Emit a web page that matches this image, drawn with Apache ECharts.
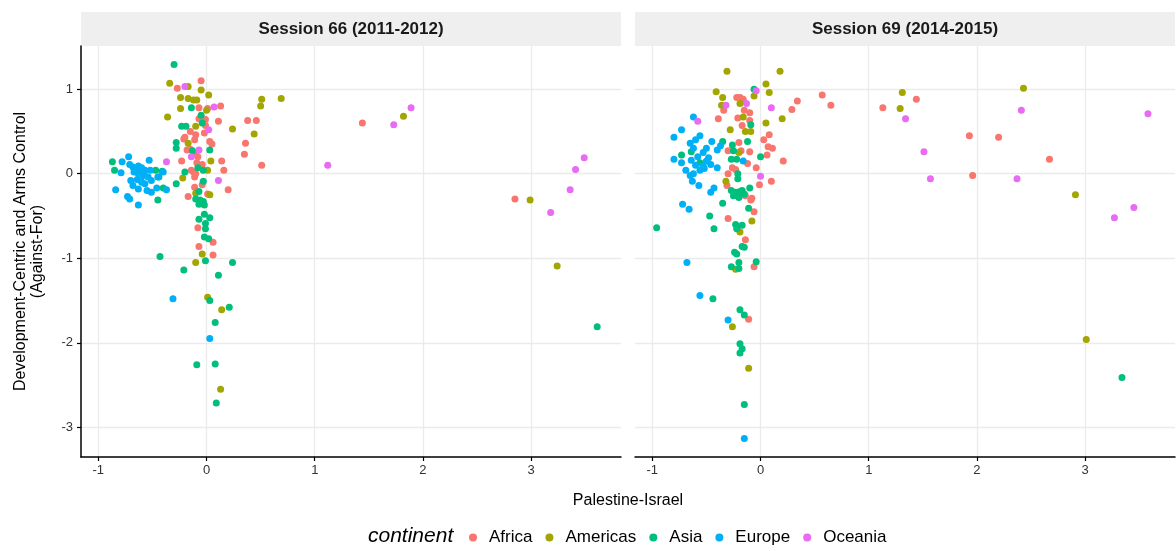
<!DOCTYPE html>
<html>
<head>
<meta charset="utf-8">
<script src="https://cdn.jsdelivr.net/npm/echarts@6/dist/echarts.min.js"></script>
<style>
  html, body { margin: 0; padding: 0; background: #fff; }
  #chart { width: 1176px; height: 551px; }
</style>
</head>
<body>
<div id="chart"></div>
<script>
const continents = ['Africa', 'Americas', 'Asia', 'Europe', 'Oceania']
const colors = ['#F8766D', '#A3A500', '#00BF7D', '#00B0F6', '#E76BF3']
const sessions = ['Session 66 (2011-2012)', 'Session 69 (2014-2015)']
const xTicks = [-1, 0, 1, 2, 3]
const yTicks = [-3, -2, -1, 0, 1]

// Session 66: [Palestine-Israel, Development-Centric and Arms Control]
const s66Africa = [
  [-0.27,1.01],[-0.05,1.10],[-0.07,0.78],[0.01,0.77],[0.13,0.80],[-0.07,0.65],[-0.01,0.64],[0.11,0.62],
  [0.38,0.63],[0.46,0.63],[-0.15,0.50],[-0.01,0.57],[-0.10,0.46],[-0.02,0.48],[-0.21,0.41],[-0.20,0.43],
  [-0.11,0.40],[0.03,0.38],[0.05,0.35],[0.36,0.36],[0.35,0.23],[-0.18,0.28],[-0.15,0.29],[-0.10,0.23],
  [-0.08,0.20],[-0.23,0.15],[0.14,0.15],[-0.09,0.13],[-0.04,0.11],[0.51,0.10],[-0.14,0.04],[0.16,0.04],
  [-0.12,0.02],[-0.10,0.00],[-0.11,-0.04],[-0.04,-0.13],[-0.11,-0.16],[0.20,-0.19],[0.01,-0.24],[-0.17,-0.27],
  [-0.08,-0.64],[0.06,-0.81],[-0.07,-0.86],[0.06,-0.96],[1.44,0.60],[2.85,-0.30]
]
const s66Americas = [
  [-0.34,1.07],[-0.17,1.03],[-0.05,0.99],[0.02,0.93],[-0.24,0.90],[-0.17,0.89],[-0.12,0.87],[-0.09,0.87],
  [-0.24,0.77],[0.00,0.75],[0.51,0.88],[0.50,0.80],[0.69,0.89],[-0.36,0.67],[-0.10,0.56],[0.24,0.53],
  [0.44,0.47],[-0.17,0.36],[0.04,0.15],[0.01,0.04],[-0.22,-0.05],[-0.10,-0.23],[0.03,-0.25],[-0.04,-0.95],
  [-0.10,-1.05],[0.01,-1.46],[0.14,-1.61],[0.13,-2.55],[1.82,0.68],[2.99,-0.31],[3.24,-1.09]
]
const s66Asia = [
  [-0.30,1.29],[-0.14,0.78],[-0.05,0.69],[-0.04,0.60],[-0.23,0.56],[-0.19,0.56],[-0.28,0.37],[-0.28,0.30],
  [-0.13,0.27],[0.03,0.28],[-0.08,0.07],[-0.03,0.04],[-0.47,0.04],[-0.44,-0.04],[-0.41,0.03],[-0.87,0.14],
  [-0.85,0.04],[-0.40,-0.17],[-0.45,-0.31],[-0.28,-0.12],[-0.20,0.02],[-0.03,-0.09],[-0.07,-0.21],[-0.10,-0.30],
  [-0.06,-0.31],[-0.03,-0.33],[-0.07,-0.36],[-0.02,-0.37],[-0.02,-0.48],[0.03,-0.52],[-0.07,-0.54],[-0.01,-0.59],
  [-0.01,-0.65],[-0.02,-0.75],[0.02,-0.77],[-0.43,-0.98],[-0.01,-1.03],[0.24,-1.05],[-0.21,-1.14],[0.11,-1.20],
  [0.03,-1.50],[0.21,-1.58],[0.08,-1.76],[-0.09,-2.26],[0.08,-2.25],[0.09,-2.71],[3.61,-1.81]
]
const s66Europe = [
  [-0.72,0.20],[-0.78,0.14],[-0.53,0.16],[-0.71,0.11],[-0.68,0.08],[-0.63,0.09],[-0.60,0.07],[-0.65,0.04],
  [-0.61,0.03],[-0.57,0.04],[-0.52,0.04],[-0.58,0.00],[-0.63,0.00],[-0.67,0.02],[-0.79,0.01],[-0.54,-0.04],
  [-0.60,-0.04],[-0.45,-0.04],[-0.40,0.02],[-0.70,-0.08],[-0.64,-0.07],[-0.60,-0.10],[-0.57,-0.12],[-0.68,-0.14],
  [-0.63,-0.18],[-0.55,-0.20],[-0.51,-0.22],[-0.46,-0.17],[-0.84,-0.19],[-0.73,-0.27],[-0.71,-0.30],[-0.63,-0.37],
  [-0.37,-0.19],[-0.51,-0.08],[-0.31,-1.48],[0.03,-1.95]
]
const s66Oceania = [
  [-0.20,1.03],[0.07,0.79],[0.02,0.52],[-0.07,0.28],[-0.14,0.20],[-0.37,0.14],[0.11,-0.08],[1.12,0.10],
  [1.73,0.58],[1.89,0.78],[3.18,-0.46],[3.36,-0.19],[3.41,0.05],[3.49,0.19]
]

// Session 69
const s69Africa = [
  [-0.22,0.90],[-0.19,0.90],[-0.16,0.88],[-0.34,0.75],[-0.15,0.75],[-0.10,0.72],[0.34,0.86],[0.29,0.76],
  [-0.39,0.65],[-0.21,0.66],[-0.10,0.63],[-0.17,0.57],[0.08,0.46],[0.03,0.40],[-0.20,0.37],[0.07,0.32],
  [0.11,0.30],[-0.30,0.27],[-0.18,0.27],[-0.10,0.26],[0.06,0.22],[0.21,0.15],[-0.12,0.12],[-0.26,0.07],
  [-0.23,0.05],[-0.30,0.00],[-0.04,0.07],[0.10,-0.09],[-0.01,-0.13],[-0.31,-0.14],[-0.14,-0.26],[-0.08,-0.29],
  [-0.09,-0.31],[-0.06,-0.45],[-0.30,-0.53],[-0.14,-0.78],[-0.06,-1.10],[-0.11,-1.72],[0.57,0.93],[0.65,0.81],
  [1.13,0.78],[1.44,0.88],[1.93,0.45],[1.96,-0.02],[2.20,0.43],[2.67,0.17]
]
const s69Americas = [
  [-0.31,1.21],[0.18,1.21],[0.05,1.06],[0.08,0.96],[-0.41,0.97],[-0.35,0.90],[-0.06,0.92],[-0.36,0.81],
  [-0.19,0.83],[-0.16,0.67],[0.20,0.65],[0.05,0.60],[-0.28,0.52],[-0.14,0.50],[-0.09,0.50],[-0.20,0.25],
  [-0.32,-0.09],[-0.08,-0.56],[-0.19,-0.69],[-0.23,-1.13],[-0.26,-1.81],[-0.11,-2.30],[1.31,0.96],[1.29,0.77],
  [2.43,1.01],[2.91,-0.25],[3.01,-1.96]
]
const s69Asia = [
  [-0.06,1.00],[-0.09,0.58],[-0.35,0.38],[-0.26,0.34],[-0.12,0.38],[-0.64,0.26],[-0.73,0.22],[-0.25,0.27],
  [0.00,0.20],[-0.27,0.17],[-0.22,0.17],[-0.56,0.13],[-0.21,0.00],[-0.21,-0.06],[-0.27,-0.20],[-0.23,-0.22],
  [-0.19,-0.21],[-0.15,-0.24],[-0.25,-0.26],[-0.20,-0.28],[-0.17,-0.20],[-0.10,-0.17],[-0.35,-0.35],[-0.11,-0.41],
  [-0.47,-0.50],[-0.96,-0.64],[-0.43,-0.65],[-0.23,-0.60],[-0.17,-0.61],[-0.22,-0.65],[-0.17,-0.86],[-0.15,-0.87],
  [-0.24,-0.93],[-0.22,-0.95],[-0.04,-1.04],[-0.20,-1.05],[-0.27,-1.10],[-0.20,-1.12],[-0.44,-1.48],[-0.19,-1.61],
  [-0.15,-1.67],[-0.19,-2.01],[-0.17,-2.07],[-0.19,-2.12],[-0.15,-2.73],[3.34,-2.41]
]
const s69Europe = [
  [-0.62,0.67],[-0.73,0.52],[-0.80,0.43],[-0.56,0.45],[-0.60,0.40],[-0.65,0.36],[-0.62,0.30],[-0.50,0.30],
  [-0.45,0.38],[-0.37,0.33],[-0.40,0.28],[-0.53,0.25],[-0.58,0.20],[-0.48,0.19],[-0.50,0.15],[-0.16,0.15],
  [-0.80,0.17],[-0.73,0.13],[-0.64,0.16],[-0.60,0.10],[-0.46,0.11],[-0.53,0.09],[-0.52,0.06],[-0.56,0.04],
  [-0.40,0.07],[-0.69,0.04],[-0.62,0.00],[-0.65,-0.02],[-0.63,-0.09],[-0.57,-0.14],[-0.43,-0.17],[-0.46,-0.22],
  [-0.72,-0.36],[-0.66,-0.42],[-0.68,-1.05],[-0.56,-1.44],[-0.30,-1.73],[-0.15,-3.13]
]
const s69Oceania = [
  [-0.04,0.98],[-0.32,0.81],[-0.13,0.83],[0.10,0.78],[-0.58,0.62],[0.00,-0.03],[1.34,0.65],[1.51,0.26],
  [1.57,-0.06],[2.41,0.75],[2.37,-0.06],[3.58,0.71],[3.27,-0.52],[3.45,-0.40]
]

const panelData = [
  [s66Africa, s66Americas, s66Asia, s66Europe, s66Oceania],
  [s69Africa, s69Americas, s69Asia, s69Europe, s69Oceania]
]

const panels = [{ left: 81 }, { left: 635 }]
const panelTop = 46
const panelW = 540
const panelH = 411
const font = '"Liberation Sans", Arial, Helvetica, sans-serif'

const chart = echarts.init(document.getElementById('chart'), null, { renderer: 'canvas' })

const series = []
panelData.forEach((groups, i) => {
  groups.forEach((pts, j) => {
    series.push({
      type: 'scatter',
      name: continents[j],
      xAxisIndex: i,
      yAxisIndex: i,
      symbolSize: 7,
      itemStyle: { color: colors[j], opacity: 1 },
      data: pts
    })
  })
})

const xAxes = panels.map((p, i) => ({
  type: 'value',
  gridIndex: i,
  min: -1.16,
  max: 3.83,
  axisLine: { show: true, onZero: false, lineStyle: { color: '#000', width: 1.5 } },
  axisTick: { show: true, length: 4, lineStyle: { color: '#000', width: 1.2 }, customValues: xTicks },
  axisLabel: { color: '#333', fontSize: 13, fontFamily: font, margin: 7, customValues: xTicks },
  splitLine: { show: true, lineStyle: { color: '#ebebeb', width: 1.3 } }
}))

const yAxes = panels.map((p, i) => ({
  type: 'value',
  gridIndex: i,
  min: -3.35,
  max: 1.51,
  name: i === 0 ? 'Development-Centric and Arms Control\n(Against-For)' : '',
  nameLocation: 'middle',
  nameRotate: 90,
  nameGap: 35,
  nameTextStyle: { color: '#000', fontSize: 16, fontFamily: font, lineHeight: 17 },
  axisLine: { show: i === 0, onZero: false, lineStyle: { color: '#000', width: 1.5 } },
  axisTick: { show: i === 0, length: 4, lineStyle: { color: '#000', width: 1.2 }, customValues: yTicks },
  axisLabel: { show: i === 0, color: '#333', fontSize: 13, fontFamily: font, margin: 8, customValues: yTicks },
  splitLine: { show: true, lineStyle: { color: '#ebebeb', width: 1.3 } }
}))

const strips = []
panels.forEach((p, i) => {
  strips.push({
    type: 'rect',
    shape: { x: p.left, y: 12, width: panelW, height: 34 },
    style: { fill: '#efefef' },
    silent: true
  })
  strips.push({
    type: 'text',
    x: p.left + panelW / 2,
    y: 29,
    style: {
      text: sessions[i],
      align: 'center',
      verticalAlign: 'middle',
      font: 'bold 17px ' + font,
      fill: '#1a1a1a'
    },
    silent: true
  })
})

chart.setOption({
  animation: false,
  backgroundColor: '#fff',
  grid: panels.map(p => ({
    left: p.left, top: panelTop, width: panelW, height: panelH,
    containLabel: false, outerBoundsMode: 'none'
  })),
  xAxis: xAxes,
  yAxis: yAxes,
  legend: {
    data: continents.map(c => ({ name: c, icon: 'circle' })),
    left: 464,
    top: 524,
    itemWidth: 8,
    itemHeight: 8,
    itemGap: 13,
    selectedMode: false,
    textStyle: { color: '#000', fontSize: 17, fontFamily: font, padding: [0, 0, 0, 7] }
  },
  graphic: strips.concat([
    {
      type: 'text',
      x: 628,
      y: 501,
      style: {
        text: 'Palestine-Israel',
        align: 'center',
        verticalAlign: 'middle',
        font: '16px ' + font,
        fill: '#000'
      },
      silent: true
    },
    {
      type: 'text',
      x: 368,
      y: 536,
      style: {
        text: 'continent',
        align: 'left',
        verticalAlign: 'middle',
        font: 'italic 21px ' + font,
        fill: '#000'
      },
      silent: true
    }
  ]),
  series: series
})
</script>
</body>
</html>
